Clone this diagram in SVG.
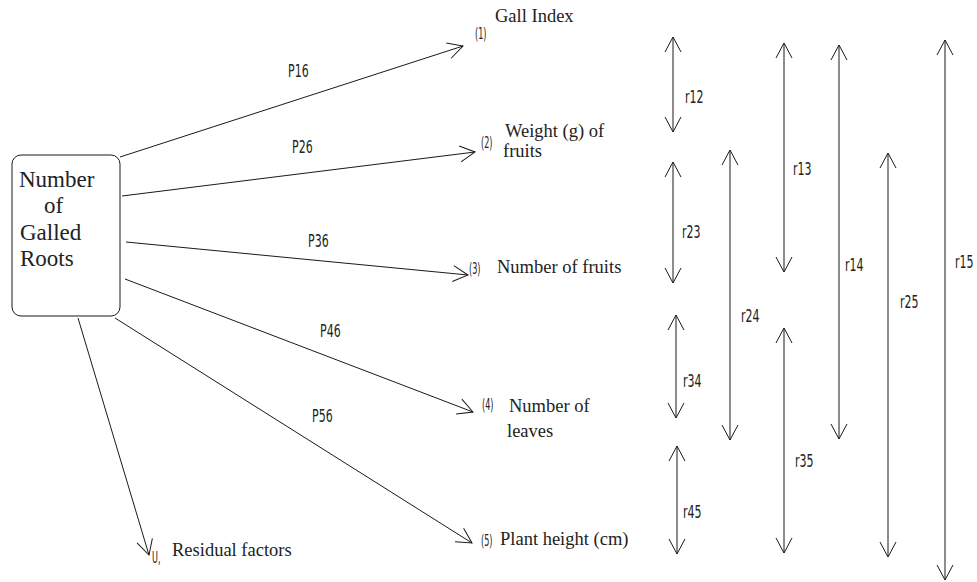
<svg xmlns="http://www.w3.org/2000/svg" width="977" height="582" viewBox="0 0 977 582">
<style>
.ln{stroke:#1a1a1a;stroke-width:1;fill:none}
.serif{font-family:"Liberation Serif","Times New Roman","DejaVu Serif",serif;fill:#222}
.lbl{font-family:"DejaVu Sans Condensed","DejaVu Sans",sans-serif;font-size:18px;fill:#222}
.num{font-family:"DejaVu Sans Condensed","DejaVu Sans",sans-serif;font-size:15px;fill:#222}
</style>
<defs>
<marker id="arr" viewBox="-16 -10 18 20" refX="0" refY="0" markerWidth="18" markerHeight="20" markerUnits="userSpaceOnUse" orient="auto-start-reverse">
<path d="M-15,-8 L0,0 L-15,8" fill="none" stroke="#1a1a1a" stroke-width="1"/>
</marker>
</defs>
<rect width="977" height="582" fill="#fff"/>
<g id="source">
<rect x="12" y="155" width="108" height="161" rx="9" ry="9" class="ln"/>
<text class="serif" font-size="23" x="19" y="187">Number</text>
<text class="serif" font-size="23" x="44" y="213">of</text>
<text class="serif" font-size="23" x="20" y="240">Galled</text>
<text class="serif" font-size="23" x="20" y="266">Roots</text>
</g>
<g id="connectors">
<line class="ln" x1="120" y1="157" x2="463" y2="46" marker-end="url(#arr)"/>
<line class="ln" x1="122" y1="196" x2="475" y2="152" marker-end="url(#arr)"/>
<line class="ln" x1="126" y1="242" x2="468" y2="275" marker-end="url(#arr)"/>
<line class="ln" x1="125" y1="279" x2="473" y2="412" marker-end="url(#arr)"/>
<line class="ln" x1="115" y1="318" x2="472" y2="543" marker-end="url(#arr)"/>
<line class="ln" x1="78" y1="318" x2="149" y2="555" marker-end="url(#arr)"/>
<line class="ln" x1="673" y1="37" x2="673" y2="132" marker-start="url(#arr)" marker-end="url(#arr)"/>
<line class="ln" x1="673" y1="162" x2="673" y2="283" marker-start="url(#arr)" marker-end="url(#arr)"/>
<line class="ln" x1="676" y1="315" x2="676" y2="418" marker-start="url(#arr)" marker-end="url(#arr)"/>
<line class="ln" x1="677" y1="446" x2="677" y2="554" marker-start="url(#arr)" marker-end="url(#arr)"/>
<line class="ln" x1="730" y1="150" x2="730" y2="440" marker-start="url(#arr)" marker-end="url(#arr)"/>
<line class="ln" x1="784" y1="43" x2="784" y2="272" marker-start="url(#arr)" marker-end="url(#arr)"/>
<line class="ln" x1="784" y1="328" x2="784" y2="553" marker-start="url(#arr)" marker-end="url(#arr)"/>
<line class="ln" x1="839" y1="45" x2="839" y2="439" marker-start="url(#arr)" marker-end="url(#arr)"/>
<line class="ln" x1="888" y1="153" x2="888" y2="557" marker-start="url(#arr)" marker-end="url(#arr)"/>
<line class="ln" x1="945" y1="40" x2="945" y2="580" marker-start="url(#arr)" marker-end="url(#arr)"/>
<text class="lbl" transform="matrix(0.68 0 0 1 288 77)">P16</text>
<text class="lbl" transform="matrix(0.68 0 0 1 292 153)">P26</text>
<text class="lbl" transform="matrix(0.68 0 0 1 308 247)">P36</text>
<text class="lbl" transform="matrix(0.68 0 0 1 320 337)">P46</text>
<text class="lbl" transform="matrix(0.68 0 0 1 312 422)">P56</text>
<text class="lbl" transform="matrix(0.68 0 0 1 685 103)">r12</text>
<text class="lbl" transform="matrix(0.68 0 0 1 682 238)">r23</text>
<text class="lbl" transform="matrix(0.68 0 0 1 683 387)">r34</text>
<text class="lbl" transform="matrix(0.68 0 0 1 683 518)">r45</text>
<text class="lbl" transform="matrix(0.68 0 0 1 741 322)">r24</text>
<text class="lbl" transform="matrix(0.68 0 0 1 793 175)">r13</text>
<text class="lbl" transform="matrix(0.68 0 0 1 795 467)">r35</text>
<text class="lbl" transform="matrix(0.68 0 0 1 845 271)">r14</text>
<text class="lbl" transform="matrix(0.68 0 0 1 900 308)">r25</text>
<text class="lbl" transform="matrix(0.68 0 0 1 955 268)">r15</text>
</g>
<g id="n1">
<text class="num" transform="matrix(0.6 0 0 1 475 39)">(1)</text>
<text class="serif" font-size="18.5" x="495" y="22">Gall Index</text>
</g>
<g id="n2">
<text class="num" transform="matrix(0.6 0 0 1 481 148)">(2)</text>
<text class="serif" font-size="18.5" x="505" y="137">Weight (g) of</text>
<text class="serif" font-size="18.5" x="503" y="157">fruits</text>
</g>
<g id="n3">
<text class="num" transform="matrix(0.6 0 0 1 469 274)">(3)</text>
<text class="serif" font-size="18.5" x="497" y="273">Number of fruits</text>
</g>
<g id="n4">
<text class="num" transform="matrix(0.6 0 0 1 482 410)">(4)</text>
<text class="serif" font-size="18.5" x="509" y="412">Number  of</text>
<text class="serif" font-size="18.5" x="507" y="437">leaves</text>
</g>
<g id="n5">
<text class="num" transform="matrix(0.6 0 0 1 481 546)">(5)</text>
<text class="serif" font-size="18.5" x="500" y="545">Plant height (cm)</text>
</g>
<g id="residual">
<text class="num" transform="matrix(0.6 0 0 1 152 563)">U,</text>
<text class="serif" font-size="18.5" x="172" y="556">Residual factors</text>
</g>
</svg>
